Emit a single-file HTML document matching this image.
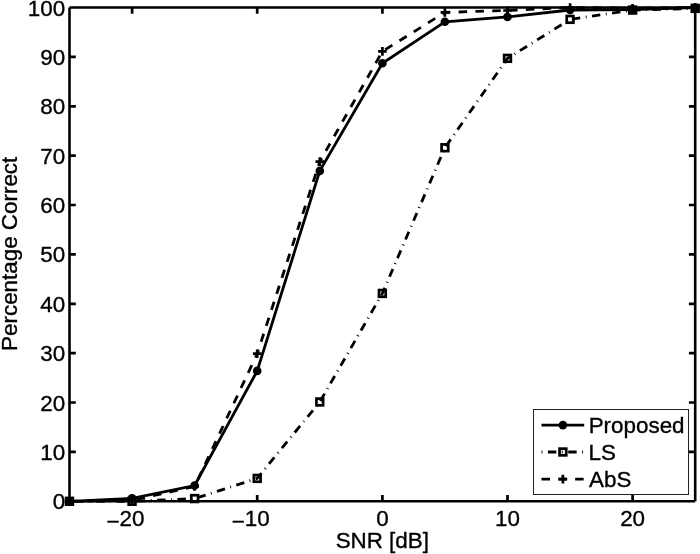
<!DOCTYPE html>
<html lang="en"><head><meta charset="utf-8"><title>Percentage Correct vs SNR</title>
<style>html,body{margin:0;padding:0;background:#fff}svg{display:block}text{font-family:"Liberation Sans",Arial,Helvetica,sans-serif;font-size:22.4px;fill:#000;stroke:#000;stroke-width:0.35px}</style></head><body>
<svg width="700" height="554" viewBox="0 0 700 554">
<rect x="0" y="0" width="700" height="554" fill="#fff"/>
<path d="M69.5 501.3H695.2M69.5 7.5H695.2M69.5 7.5V501.3M695.2 7.5V501.3" fill="none" stroke="#000" stroke-width="2.6" stroke-linecap="butt"/>
<g stroke="#000" stroke-width="2.7" fill="none">
<path d="M132.1 501.3 V495.0 M132.1 7.5 V13.8"/>
<path d="M257.2 501.3 V495.0 M257.2 7.5 V13.8"/>
<path d="M382.4 501.3 V495.0 M382.4 7.5 V13.8"/>
<path d="M507.5 501.3 V495.0 M507.5 7.5 V13.8"/>
<path d="M632.6 501.3 V495.0 M632.6 7.5 V13.8"/>
<path d="M69.5 451.9 H75.8 M695.2 451.9 H688.9"/>
<path d="M69.5 402.5 H75.8 M695.2 402.5 H688.9"/>
<path d="M69.5 353.2 H75.8 M695.2 353.2 H688.9"/>
<path d="M69.5 303.8 H75.8 M695.2 303.8 H688.9"/>
<path d="M69.5 254.4 H75.8 M695.2 254.4 H688.9"/>
<path d="M69.5 205.0 H75.8 M695.2 205.0 H688.9"/>
<path d="M69.5 155.6 H75.8 M695.2 155.6 H688.9"/>
<path d="M69.5 106.3 H75.8 M695.2 106.3 H688.9"/>
<path d="M69.5 56.9 H75.8 M695.2 56.9 H688.9"/>
</g>
<g text-anchor="end">
<text x="65.1" y="509.3">0</text>
<text x="65.1" y="459.9">10</text>
<text x="65.1" y="410.5">20</text>
<text x="65.1" y="361.2">30</text>
<text x="65.1" y="311.8">40</text>
<text x="65.1" y="262.4">50</text>
<text x="65.1" y="213.0">60</text>
<text x="65.1" y="163.6">70</text>
<text x="65.1" y="114.3">80</text>
<text x="65.1" y="64.9">90</text>
<text x="65.1" y="15.5">100</text>
</g>
<g text-anchor="middle">
<text x="144.5" y="526.2" text-anchor="end"><tspan dy="2.6">−</tspan><tspan dy="-2.6">20</tspan></text>
<text x="269.7" y="526.2" text-anchor="end"><tspan dy="2.6">−</tspan><tspan dy="-2.6">10</tspan></text>
<text x="382.4" y="526.2">0</text>
<text x="507.5" y="526.2">10</text>
<text x="632.6" y="526.2">20</text>
</g>
<text x="382.3" y="548.2" text-anchor="middle">SNR [dB]</text>
<text transform="translate(16.5 253.8) rotate(-90)" text-anchor="middle">Percentage Correct</text>
<g fill="none" stroke="#000" stroke-width="2.8" stroke-linejoin="miter">
<polyline points="69.5,501.3 132.1,498.3 194.6,485.5 257.2,370.9 319.8,170.9 382.4,63.3 444.9,21.8 507.5,16.9 570.1,10.0 632.6,9.5 695.2,7.5"/>
<polyline points="69.5,501.3 132.1,501.3 194.6,498.6 257.2,478.4 319.8,401.9 382.4,293.4 444.9,147.7 507.5,58.4 570.1,19.4 632.6,10.1 695.2,8.4" stroke-dasharray="0.9 5.5 8.42 5.5"/>
<polyline points="69.5,501.3 132.1,500.3 194.6,486.5 257.2,353.7 319.8,161.6 382.4,51.4 444.9,12.4 507.5,10.5 570.1,7.5 632.6,8.2 695.2,7.5" stroke-dasharray="8.5 8.32"/>
</g>
<circle cx="69.5" cy="501.3" r="4.3" fill="#000"/>
<circle cx="132.1" cy="498.3" r="4.3" fill="#000"/>
<circle cx="194.6" cy="485.5" r="4.3" fill="#000"/>
<circle cx="257.2" cy="370.9" r="4.3" fill="#000"/>
<circle cx="319.8" cy="170.9" r="4.3" fill="#000"/>
<circle cx="382.4" cy="63.3" r="4.3" fill="#000"/>
<circle cx="444.9" cy="21.8" r="4.3" fill="#000"/>
<circle cx="507.5" cy="16.9" r="4.3" fill="#000"/>
<circle cx="570.1" cy="10.0" r="4.3" fill="#000"/>
<circle cx="632.6" cy="9.5" r="4.3" fill="#000"/>
<circle cx="695.2" cy="7.5" r="4.3" fill="#000"/>
<rect x="66.15" y="497.95" width="6.7" height="6.7" fill="none" stroke="#000" stroke-width="2.7"/>
<rect x="128.72" y="497.95" width="6.7" height="6.7" fill="none" stroke="#000" stroke-width="2.7"/>
<rect x="191.29" y="495.23" width="6.7" height="6.7" fill="none" stroke="#000" stroke-width="2.7"/>
<rect x="253.86" y="475.04" width="6.7" height="6.7" fill="none" stroke="#000" stroke-width="2.7"/>
<rect x="316.43" y="398.60" width="6.7" height="6.7" fill="none" stroke="#000" stroke-width="2.7"/>
<rect x="379.00" y="290.06" width="6.7" height="6.7" fill="none" stroke="#000" stroke-width="2.7"/>
<rect x="441.57" y="144.39" width="6.7" height="6.7" fill="none" stroke="#000" stroke-width="2.7"/>
<rect x="504.14" y="55.01" width="6.7" height="6.7" fill="none" stroke="#000" stroke-width="2.7"/>
<rect x="566.71" y="16.00" width="6.7" height="6.7" fill="none" stroke="#000" stroke-width="2.7"/>
<rect x="629.28" y="6.72" width="6.7" height="6.7" fill="none" stroke="#000" stroke-width="2.7"/>
<rect x="691.85" y="5.04" width="6.7" height="6.7" fill="none" stroke="#000" stroke-width="2.7"/>
<path d="M65.2 501.3H73.8M69.5 497.0V505.6" fill="none" stroke="#000" stroke-width="2.7"/>
<path d="M127.8 500.3H136.4M132.1 496.0V504.6" fill="none" stroke="#000" stroke-width="2.7"/>
<path d="M190.3 486.5H198.9M194.6 482.2V490.8" fill="none" stroke="#000" stroke-width="2.7"/>
<path d="M252.9 353.7H261.5M257.2 349.4V358.0" fill="none" stroke="#000" stroke-width="2.7"/>
<path d="M315.5 161.6H324.1M319.8 157.3V165.9" fill="none" stroke="#000" stroke-width="2.7"/>
<path d="M378.1 51.4H386.7M382.4 47.1V55.7" fill="none" stroke="#000" stroke-width="2.7"/>
<path d="M440.6 12.4H449.2M444.9 8.1V16.7" fill="none" stroke="#000" stroke-width="2.7"/>
<path d="M503.2 10.5H511.8M507.5 6.2V14.8" fill="none" stroke="#000" stroke-width="2.7"/>
<path d="M565.8 7.5H574.4M570.1 3.2V11.8" fill="none" stroke="#000" stroke-width="2.7"/>
<path d="M628.3 8.2H636.9M632.6 3.9V12.5" fill="none" stroke="#000" stroke-width="2.7"/>
<path d="M690.9 7.5H699.5M695.2 3.2V11.8" fill="none" stroke="#000" stroke-width="2.7"/>
<rect x="533.5" y="409.5" width="155" height="85" fill="#fff" stroke="#222" stroke-width="1"/>
<g fill="none" stroke="#000" stroke-width="2.8">
<path d="M541.5 425.1H584.2"/>
<path d="M541.5 452H584.2" stroke-dasharray="0.9 5.5 8.42 5.5"/>
<path d="M541.5 479.1H584.2" stroke-dasharray="8.5 8.32"/>
</g>
<circle cx="562.9" cy="425.1" r="4.3" fill="#000"/>
<rect x="559.55" y="448.65" width="6.7" height="6.7" fill="none" stroke="#000" stroke-width="2.7"/>
<path d="M558.6 479.1H567.2M562.9 474.8V483.4" fill="none" stroke="#000" stroke-width="2.7"/>
<text x="588.7" y="432.8">Proposed</text>
<text x="588.5" y="459.9">LS</text>
<text x="589" y="486.8">AbS</text>
</svg></body></html>
